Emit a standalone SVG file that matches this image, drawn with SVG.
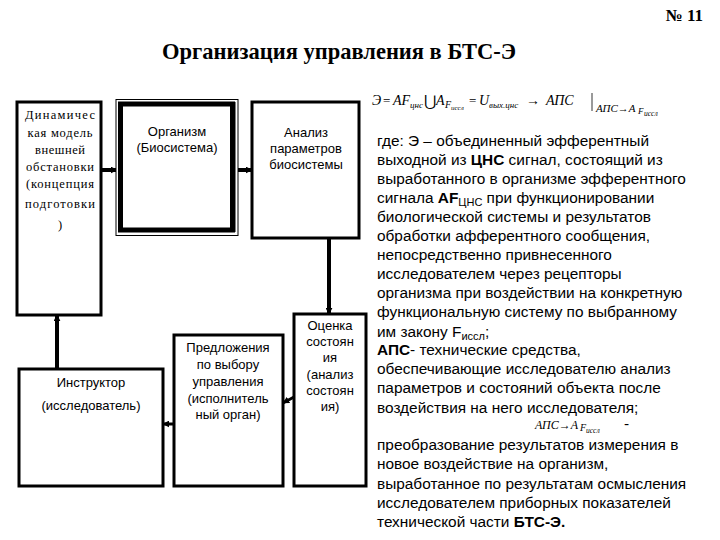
<svg xmlns="http://www.w3.org/2000/svg" width="720" height="540" viewBox="0 0 720 540">
<style>
.box{fill:#fff;stroke:#000;stroke-width:3}
.serif{font-family:"Liberation Serif","Times New Roman",serif}
.sans{font-family:"Liberation Sans",Arial,sans-serif}
.nt{font-family:"Liberation Sans",Arial,sans-serif;font-size:13px;text-anchor:middle;fill:#000}
.st{font-family:"Liberation Serif","Times New Roman",serif;font-size:12.5px;text-anchor:middle;fill:#000}
.body{font-family:"Liberation Sans",Arial,sans-serif;font-size:15.4px;fill:#000}
.fm{font-family:"Liberation Serif","Times New Roman",serif;font-style:italic;fill:#000}
.up{font-style:normal}
.conn{stroke:#000;stroke-width:4;fill:none}
.conn2{stroke:#000;stroke-width:3;fill:none}
</style>
<defs>
<marker id="ah" viewBox="0 0 10 10" refX="9" refY="5" markerWidth="7" markerHeight="7" markerUnits="userSpaceOnUse" orient="auto">
<path d="M0,0 L10,5 L0,10 z" fill="#000"/>
</marker>
</defs>
<rect width="720" height="540" fill="#fff"/>
<text x="703" y="21" class="serif" font-size="17" font-weight="bold" text-anchor="end">№ 11</text>
<text x="339" y="59" class="serif" font-size="22.5" font-weight="bold" text-anchor="middle">Организация управления в БТС-Э</text>

<g id="connectors">
<line class="conn" x1="101" y1="170" x2="117" y2="170" marker-end="url(#ah)"/>
<line class="conn" x1="238" y1="170" x2="252" y2="170" marker-end="url(#ah)"/>
<line class="conn" x1="329" y1="238" x2="329" y2="314" marker-end="url(#ah)"/>
<line class="conn" x1="57" y1="369" x2="57" y2="315" marker-end="url(#ah)"/>
<line class="conn2" x1="294" y1="397" x2="283" y2="403" marker-end="url(#ah)"/>
<line class="conn2" x1="174" y1="424" x2="163" y2="424" marker-end="url(#ah)"/>
</g>

<g id="n1">
<rect class="box" x="17" y="102" width="84" height="213"/>
<text class="st" x="60" y="119" textLength="70" lengthAdjust="spacing">Динамичес</text>
<text class="st" x="60" y="137" textLength="65" lengthAdjust="spacing">кая модель</text>
<text class="st" x="60" y="154" textLength="50" lengthAdjust="spacing">внешней</text>
<text class="st" x="60" y="171" textLength="68" lengthAdjust="spacing">обстановки</text>
<text class="st" x="60" y="188" textLength="68" lengthAdjust="spacing">(концепция</text>
<text class="st" x="60" y="208" textLength="70" lengthAdjust="spacing">подготовки</text>
<text class="st" x="60" y="229" font-size="14">)</text>
</g>

<g id="n2">
<rect x="116" y="99.5" width="122" height="136" fill="#fff" stroke="#000" stroke-width="1"/>
<rect x="120.5" y="104" width="112" height="126" fill="none" stroke="#000" stroke-width="5"/>
<line x1="234" y1="102" x2="234" y2="232" stroke="#000" stroke-width="3"/>
<text class="nt" x="177" y="136" font-size="13.5">Организм</text>
<text class="nt" x="177" y="152" font-size="13.5">(Биосистема)</text>
</g>

<g id="n3">
<rect class="box" x="252" y="102" width="107" height="136"/>
<text class="nt" x="306" y="137">Анализ</text>
<text class="nt" x="306" y="153">параметров</text>
<text class="nt" x="306" y="169">биосистемы</text>
</g>

<g id="n4">
<rect class="box" x="294" y="314" width="72" height="172"/>
<text class="nt" x="330" y="330">Оценка</text>
<text class="nt" x="330" y="346">состоян</text>
<text class="nt" x="330" y="362">ия</text>
<text class="nt" x="330" y="379">(анализ</text>
<text class="nt" x="330" y="395">состоян</text>
<text class="nt" x="330" y="411">ия)</text>
</g>

<g id="n5">
<rect class="box" x="174" y="335" width="109" height="151"/>
<text class="nt" x="228" y="352">Предложения</text>
<text class="nt" x="228" y="369">по выбору</text>
<text class="nt" x="228" y="386">управления</text>
<text class="nt" x="228" y="403">(исполнитель</text>
<text class="nt" x="228" y="419">ный орган)</text>
</g>

<g id="n6">
<rect class="box" x="19" y="369" width="144" height="117"/>
<text class="nt" x="91" y="387">Инструктор</text>
<text class="nt" x="91" y="410">(исследователь)</text>
</g>

<g id="formula1" class="fm">
<text x="372" y="105" font-size="14">Э</text>
<text x="383" y="105" font-size="13" class="up">=</text>
<text x="393" y="105" font-size="14">AF</text>
<text x="410" y="108" font-size="9">цнс</text>
<text x="424" y="106" font-size="15" class="up">⋃</text>
<text x="436" y="105" font-size="14">A</text>
<text x="445" y="108" font-size="10">F</text>
<text x="451" y="110" font-size="7">иссл</text>
<text x="469" y="105" font-size="13" class="up">=</text>
<text x="479" y="105" font-size="14">U</text>
<text x="489" y="108" font-size="9">вых.цнс</text>
<text x="526" y="105" font-size="14" class="up">→</text>
<text x="546" y="105" font-size="14">АПС</text>
<line x1="592" y1="93" x2="592" y2="111" stroke="#000" stroke-width="0.8"/>
<text x="596" y="112" font-size="11">АПС→A</text>
<text x="638" y="114" font-size="9">F</text>
<text x="644" y="116" font-size="7.5">иссл</text>
</g>

<g id="text" class="body">
<text x="377" y="146">где: Э – объединенный эфферентный</text>
<text x="377" y="165">выходной из <tspan font-weight="bold">ЦНС</tspan> сигнал, состоящий из</text>
<text x="377" y="184">выработанного в организме эфферентного</text>
<text x="377" y="203">сигнала  <tspan font-weight="bold">AF</tspan><tspan font-size="11" dy="3">ЦНС</tspan><tspan dy="-3">  при функционировании</tspan></text>
<text x="377" y="222">биологической системы и результатов</text>
<text x="377" y="241">обработки афферентного сообщения,</text>
<text x="377" y="260">непосредственно привнесенного</text>
<text x="377" y="279">исследователем через рецепторы</text>
<text x="377" y="298">организма при воздействии на конкретную</text>
<text x="377" y="317">функциональную систему по выбранному</text>
<text x="377" y="337">им закону  F<tspan font-size="11" dy="3">иссл</tspan><tspan dy="-3">;</tspan></text>
<text x="377" y="355"><tspan font-weight="bold">АПС</tspan>- технические средства,</text>
<text x="377" y="374">обеспечивающие исследователю анализ</text>
<text x="377" y="393">параметров и состояний объекта после</text>
<text x="377" y="413">воздействия на него исследователя;</text>
<text x="377" y="450">преобразование результатов измерения в</text>
<text x="377" y="469">новое воздействие на организм,</text>
<text x="377" y="489">выработанное по результатам осмысления</text>
<text x="377" y="508">исследователем приборных показателей</text>
<text x="377" y="527">технической части <tspan font-weight="bold">БТС-Э.</tspan></text>
</g>

<g id="formula2" class="fm">
<text x="535" y="429" font-size="12">АПС→A</text>
<text x="580" y="431" font-size="10">F</text>
<text x="586" y="433" font-size="7.5">иссл</text>
<text x="624" y="429" class="body up" font-size="15">-</text>
</g>
</svg>
